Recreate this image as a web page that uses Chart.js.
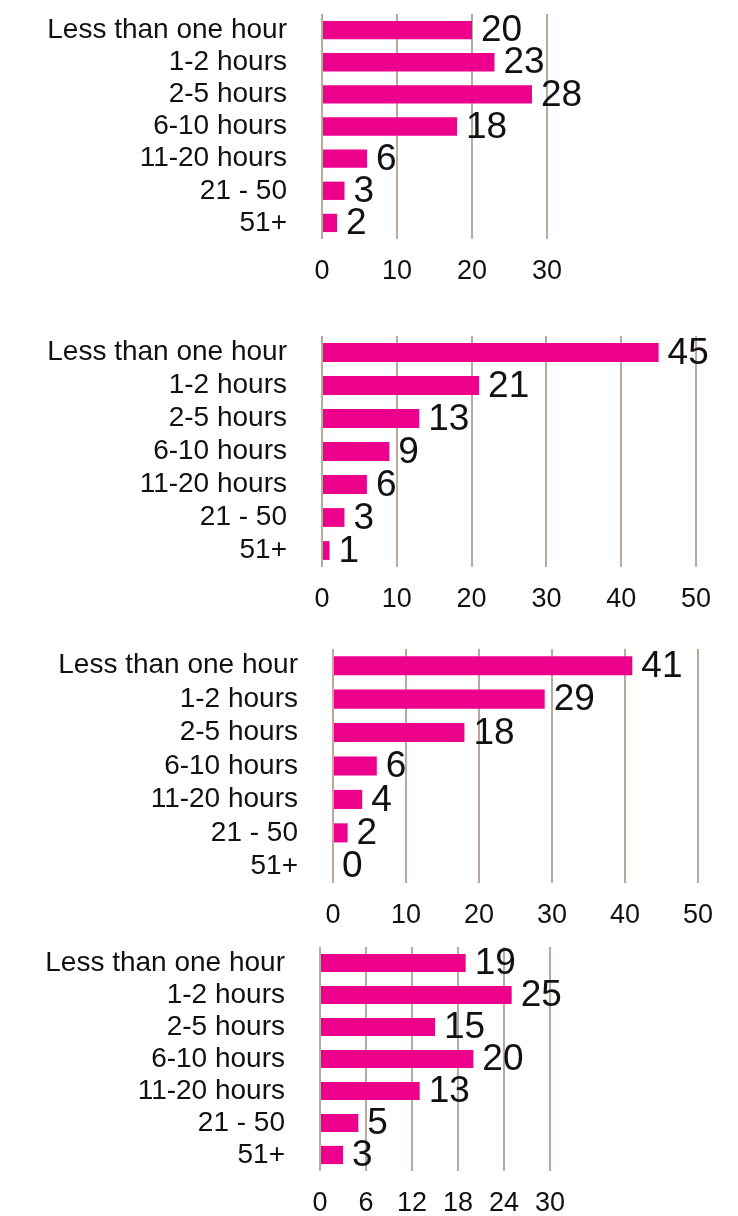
<!DOCTYPE html>
<html>
<head>
<meta charset="utf-8">
<title>Hours spent</title>
<script src="https://cdn.jsdelivr.net/npm/chart.js@4"></script>
<style>
    html, body { margin: 0; padding: 0; background: #ffffff; }
    #wrap { position: relative; width: 738px; height: 1216px; }
    canvas { position: absolute; left: 0; }
</style>
</head>
<body>
<div id="wrap">
    <canvas id="chart1" width="738" height="300" style="top:0px"></canvas>
    <canvas id="chart2" width="738" height="315" style="top:310px"></canvas>
    <canvas id="chart3" width="738" height="305" style="top:625px"></canvas>
    <canvas id="chart4" width="738" height="281" style="top:935px"></canvas>
</div>
<script>
const categories = ['Less than one hour', '1-2 hours', '2-5 hours', '6-10 hours', '11-20 hours', '21 - 50', '51+'];

const values1 = [20, 23, 28, 18, 6, 3, 2];
const values2 = [45, 21, 13, 9, 6, 3, 1];
const values3 = [41, 29, 18, 6, 4, 2, 0];
const values4 = [19, 25, 15, 20, 13, 5, 3];

// axis range and tick step for each chart
const axisMax = [30, 50, 50, 30];
const axisStep = [10, 10, 10, 6];

const FONT = '"Liberation Sans", Arial, Helvetica, sans-serif';
const BAR_COLOR = '#ec008c';
const GRID_COLOR = '#bea79d';

// Draws the value next to the end of each bar
const valueLabels = {
    id: 'valueLabels',
    afterDatasetsDraw(chart) {
        const ctx = chart.ctx;
        const meta = chart.getDatasetMeta(0);
        const data = chart.data.datasets[0].data;
        ctx.save();
        ctx.font = '37px ' + FONT;
        ctx.fillStyle = '#111111';
        ctx.textAlign = 'left';
        ctx.textBaseline = 'middle';
        meta.data.forEach((bar, i) => {
            ctx.fillText(String(data[i]), bar.x + 9, bar.y + 1);
        });
        ctx.restore();
    }
};

// area = chart area inside the canvas: left, right, top, bottom
function createChart(canvasId, values, max, step, area) {
    const canvas = document.getElementById(canvasId);
    if (!canvas) {
        console.error('Canvas not found:', canvasId);
        return;
    }
    const ctx = canvas.getContext('2d');
    const xHeight = canvas.height - area.bottom;

    return new Chart(ctx, {
        type: 'bar',
        data: {
            labels: categories,
            datasets: [{
                data: values,
                backgroundColor: BAR_COLOR,
                borderWidth: 0,
                categoryPercentage: 1,
                barPercentage: 0.57
            }]
        },
        options: {
            indexAxis: 'y',
            responsive: false,
            animation: false,
            devicePixelRatio: 1,
            layout: {
                padding: { left: 0, top: area.top, right: canvas.width - area.right, bottom: 0 }
            },
            plugins: {
                legend: { display: false },
                tooltip: { enabled: false }
            },
            scales: {
                x: {
                    min: 0,
                    max: max,
                    border: { display: false },
                    grid: { color: GRID_COLOR, lineWidth: 2, drawTicks: false },
                    ticks: {
                        stepSize: step,
                        autoSkip: false,
                        maxRotation: 0,
                        padding: 16,
                        color: '#111111',
                        font: { family: FONT, size: 27 }
                    },
                    afterFit(scale) { scale.height = xHeight; }
                },
                y: {
                    border: { display: false },
                    grid: { display: false, drawTicks: false },
                    ticks: {
                        padding: 35,
                        autoSkip: false,
                        color: '#111111',
                        font: { family: FONT, size: 28 }
                    },
                    afterFit(scale) {
                        // fixed label column; no extra room above or below the bars
                        scale.width = area.left;
                        scale.paddingTop = 0;
                        scale.paddingBottom = 0;
                    }
                }
            }
        },
        plugins: [valueLabels]
    });
}

document.addEventListener('DOMContentLoaded', function () {
    createChart('chart1', values1, axisMax[0], axisStep[0], { left: 322, right: 547, top: 14, bottom: 239 });
    createChart('chart2', values2, axisMax[1], axisStep[1], { left: 322, right: 696, top: 26, bottom: 257 });
    createChart('chart3', values3, axisMax[2], axisStep[2], { left: 333, right: 698, top: 24, bottom: 258 });
    createChart('chart4', values4, axisMax[3], axisStep[3], { left: 320, right: 550, top: 12, bottom: 236 });
});
</script>
</body>
</html>
